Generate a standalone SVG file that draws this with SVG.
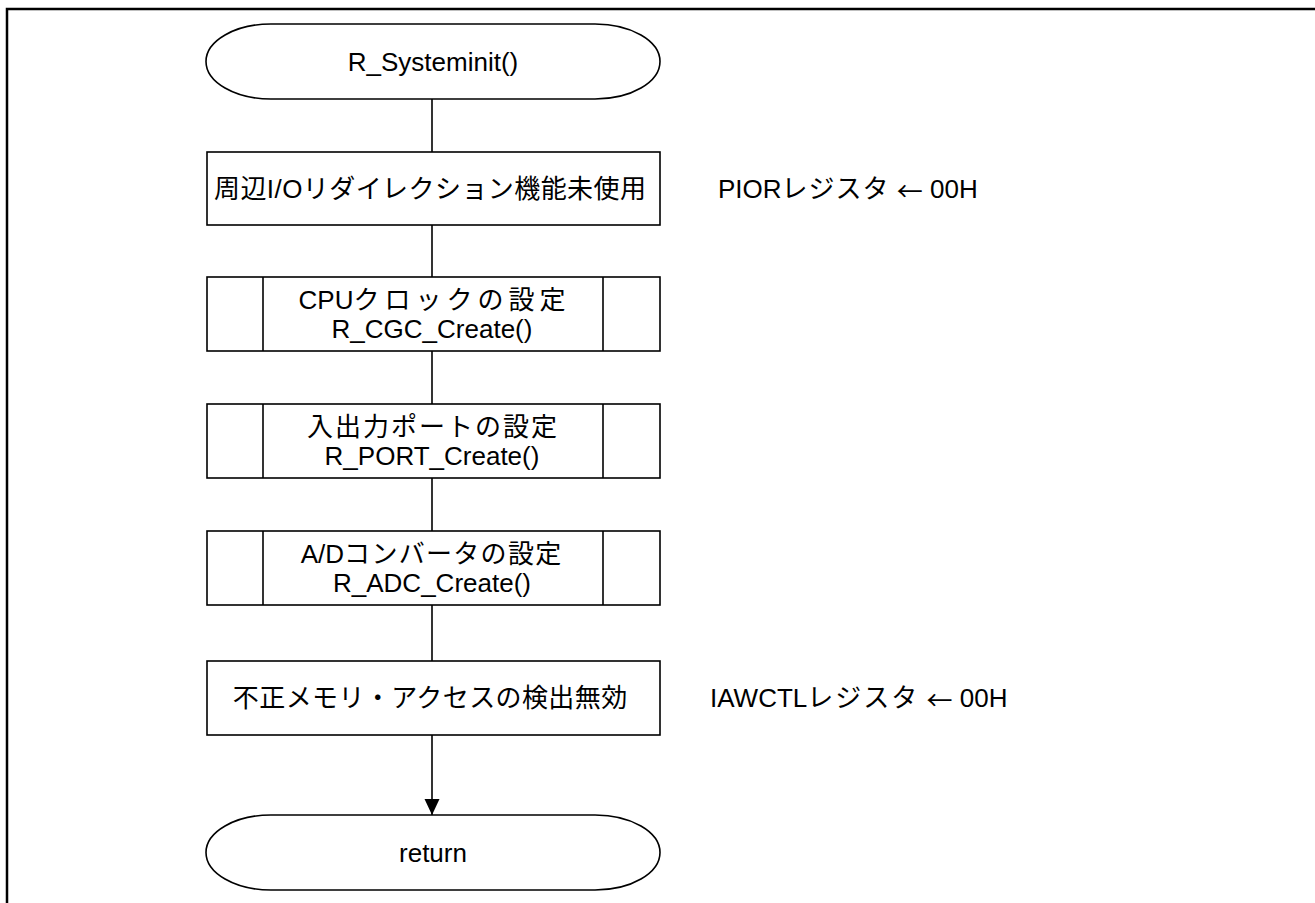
<svg xmlns="http://www.w3.org/2000/svg" width="1315" height="903" viewBox="0 0 1315 903">
<style>
.frame{fill:none;stroke:#000;stroke-width:2.5}
.shape{fill:#fff;stroke:#000;stroke-width:1.6}
.conn{fill:none;stroke:#000;stroke-width:1.6}
text{font-family:"Liberation Sans","Noto Sans CJK JP",sans-serif;font-size:26px;fill:#000;text-anchor:middle;dominant-baseline:central}
.note{text-anchor:start}
.arrowch{font-family:"Noto Sans CJK JP",sans-serif}
</style>
<defs>
<marker id="arr" markerWidth="16" markerHeight="16" refX="16" refY="8" orient="auto" markerUnits="userSpaceOnUse">
<path d="M0,0.5 L16,8 L0,15.5 Z" fill="#000"/>
</marker>
</defs>
<rect width="1315" height="903" fill="#fff"/>
<path class="frame" d="M7,903 V9 H1315"/>
<g id="connectors">
<line class="conn" x1="432" y1="99" x2="432" y2="152"/>
<line class="conn" x1="432" y1="225" x2="432" y2="277"/>
<line class="conn" x1="432" y1="351" x2="432" y2="404"/>
<line class="conn" x1="432" y1="478" x2="432" y2="531"/>
<line class="conn" x1="432" y1="605" x2="432" y2="661"/>
<line class="conn" x1="432" y1="735" x2="432" y2="815" marker-end="url(#arr)"/>
</g>
<g id="start">
<rect class="shape" x="206" y="24" width="454" height="75" rx="65" ry="37.5"/>
<text x="433" y="62">R_Systeminit()</text>
</g>
<g id="pior">
<rect class="shape" x="207" y="152" width="453" height="73"/>
<text x="430" y="189" textLength="432" lengthAdjust="spacing">周辺I/Oリダイレクション機能未使用</text>
<text class="note" x="718" y="189">PIOR<tspan letter-spacing="1">レジスタ</tspan> <tspan class="arrowch">←</tspan> 00H</text>
</g>
<g id="cgc">
<rect class="shape" x="207" y="277" width="453" height="74"/>
<line class="conn" x1="263" y1="277" x2="263" y2="351"/>
<line class="conn" x1="603" y1="277" x2="603" y2="351"/>
<text x="432" y="300">CPU<tspan letter-spacing="5">クロックの設</tspan>定</text>
<text x="432" y="329">R_CGC_Create()</text>
</g>
<g id="port">
<rect class="shape" x="207" y="404" width="453" height="74"/>
<line class="conn" x1="263" y1="404" x2="263" y2="478"/>
<line class="conn" x1="603" y1="404" x2="603" y2="478"/>
<text x="432" y="427"><tspan letter-spacing="2">入出力ポートの設</tspan>定</text>
<text x="432" y="456">R_PORT_Create()</text>
</g>
<g id="adc">
<rect class="shape" x="207" y="531" width="453" height="74"/>
<line class="conn" x1="263" y1="531" x2="263" y2="605"/>
<line class="conn" x1="603" y1="531" x2="603" y2="605"/>
<text x="431" y="554">A/D<tspan letter-spacing="1.3">コンバータの設</tspan>定</text>
<text x="432" y="583">R_ADC_Create()</text>
</g>
<g id="iawctl">
<rect class="shape" x="207" y="661" width="453" height="74"/>
<text x="430" y="698"><tspan letter-spacing="0.4">不正メモリ・アクセスの検出無</tspan>効</text>
<text class="note" x="710" y="698">IAWCTL<tspan letter-spacing="2">レジスタ</tspan> <tspan class="arrowch">←</tspan> 00H</text>
</g>
<g id="return">
<rect class="shape" x="206" y="815" width="454" height="75" rx="65" ry="37.5"/>
<text x="433" y="853">return</text>
</g>
</svg>
